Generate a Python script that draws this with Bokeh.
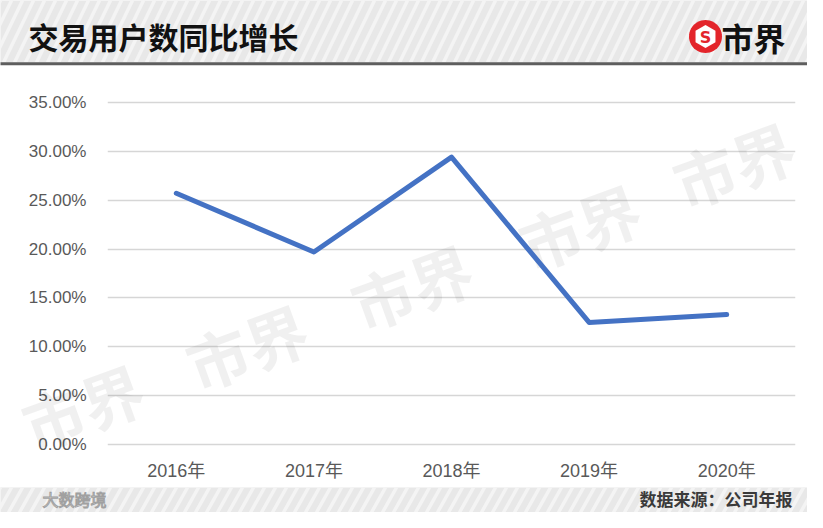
import math
from bokeh.plotting import figure
from bokeh.models import Range1d, FactorRange, FixedTicker, ColumnDataSource
from bokeh.core.properties import value
from bokeh.embed import file_html
from bokeh.resources import INLINE

# ---- data ----
years = ["2016年", "2017年", "2018年", "2019年", "2020年"]
growth_pct = [25.7, 19.7, 29.4, 12.5, 13.3]
y_ticks = [0, 5, 10, 15, 20, 25, 30, 35]
y_tick_labels = ["0.00%", "5.00%", "10.00%", "15.00%", "20.00%", "25.00%", "30.00%", "35.00%"]

title_text = "交易用户数同比增长"
brand_text = "市界"
source_text = "数据来源：公司年报"
corner_mark = "大数跨境"

CJK = "Noto Sans CJK SC"
LAT = "Liberation Sans, Noto Sans CJK SC"

W, H = 807, 512
FL, FR, FT, FB = 107, 795, 97, 449          # frame box in page pixels
Y0, Y1 = -0.5, 35.5

p = figure(width=W, height=H, x_range=FactorRange(*years, range_padding=0),
           y_range=Range1d(Y0, Y1), output_backend="svg", toolbar_location=None,
           min_border_left=FL, min_border_right=W - FR, min_border_top=FT,
           min_border_bottom=H - FB,
           background_fill_color="#ffffff", border_fill_color="#ffffff",
           outline_line_color=None)


# helpers to place page furniture (header, footer, watermark) by page pixel
def X(px):
    return (px - FL) / (FR - FL) * len(years)


def Y(py):
    return Y1 - (py - FT) / (FB - FT) * (Y1 - Y0)


def stripes(x0, x1, y_top, y_bot, color, step=11, dx=30, width=3.5):
    xs0, ys0, xs1, ys1 = [], [], [], []
    x = x0 - dx - step
    while x < x1 + step:
        xs0.append(X(x)); ys0.append(Y(y_bot))
        xs1.append(X(x + dx)); ys1.append(Y(y_top))
        x += step
    p.segment(x0=xs0, y0=ys0, x1=xs1, y1=ys1, line_color=color, line_width=width,
              level="overlay")


def polygon(cx, cy, r, n, rot=0.0):
    xs = [X(cx + r * math.cos(rot + 2 * math.pi * k / n)) for k in range(n)]
    ys = [Y(cy + r * math.sin(rot + 2 * math.pi * k / n)) for k in range(n)]
    return xs, ys


p.xgrid.grid_line_color = None
p.ygrid.grid_line_color = "#d6d6d6"
p.ygrid.grid_line_width = 1.6
p.yaxis.ticker = FixedTicker(ticks=y_ticks)
p.yaxis.major_label_overrides = dict(zip(y_ticks, y_tick_labels))
for ax in (p.xaxis, p.yaxis):
    ax.axis_line_color = None
    ax.major_tick_line_color = None
    ax.minor_tick_line_color = None
    ax.major_tick_out = 0
    ax.major_tick_in = 0
    ax.major_label_text_color = "#595959"
    ax.major_label_text_font = LAT
p.yaxis.major_label_text_font_size = "17px"
p.yaxis.major_label_standoff = 21
p.xaxis.major_label_text_font_size = "18px"
p.xaxis.major_label_standoff = 11

# ---- faint diagonal watermark ----
wm_px_x = [82, 246, 411, 579, 733]
wm_px_y = [405, 345, 285, 225, 163]
p.text(x=[X(v) for v in wm_px_x], y=[Y(v) for v in wm_px_y], text=[brand_text] * 5,
       angle=0.35, text_align="center", text_baseline="middle", text_font=value(CJK),
       text_font_style="bold", text_font_size="62px", text_color="#000000",
       text_alpha=0.06, level="overlay")

# ---- data line ----
src = ColumnDataSource(dict(year=years, growth=growth_pct))
p.line(x="year", y="growth", source=src, line_color="#4472c4", line_width=5,
       line_join="round", line_cap="round", level="overlay")

# ---- header band ----
p.quad(left=[X(0)], right=[X(W)], top=[Y(0)], bottom=[Y(62)], fill_color="#e8e8e8",
       line_color=None, level="overlay")
stripes(0, W, 0, 62, "#f4f4f4")
p.quad(left=[X(0)], right=[X(W)], top=[Y(61.8)], bottom=[Y(64.8)], fill_color="#5e5e5e",
       line_color=None, level="overlay")
p.text(x=[X(28)], y=[Y(35)], text=[title_text], text_font=value(CJK), text_font_style="bold",
       text_font_size="30px", text_color="#111111", text_align="left", text_baseline="middle",
       level="overlay")
cx, cy = polygon(705, 36, 16.5, 48)
p.patch(x=cx, y=cy, fill_color="#e3252b", line_color=None, level="overlay")
hx, hy = polygon(705, 36, 11.5, 6, rot=math.pi / 6)
p.patch(x=hx, y=hy, fill_color="#ffffff", line_color=None, level="overlay")
p.text(x=[X(705)], y=[Y(37)], text=["S"], text_font=value("DejaVu Sans"), text_font_style="bold",
       text_font_size="16px", text_color="#e3252b", text_align="center", text_baseline="middle",
       level="overlay")
p.text(x=[X(721)], y=[Y(36)], text=[brand_text], text_font=value(CJK), text_font_style="bold",
       text_font_size="32px", text_color="#111111", text_align="left", text_baseline="middle",
       level="overlay")

# ---- footer band ----
p.quad(left=[X(0)], right=[X(W)], top=[Y(487)], bottom=[Y(H)], fill_color="#e8e8e8",
       line_color=None, level="overlay")
stripes(0, W, 487, H, "#f4f4f4", dx=14)
p.text(x=[X(792)], y=[Y(498)], text=[source_text], text_font=value(CJK), text_font_style="bold",
       text_font_size="17px", text_color="#3a3a3a", text_align="right", text_baseline="middle",
       level="overlay")
p.text(x=[X(42)], y=[Y(498)], text=[corner_mark], text_font=value(CJK),
       text_font_size="16px", text_color="#ffffff", text_outline_color="#a0a0a0",
       text_align="left", text_baseline="middle", level="overlay")

open("out.html", "w").write(file_html(p, INLINE))
